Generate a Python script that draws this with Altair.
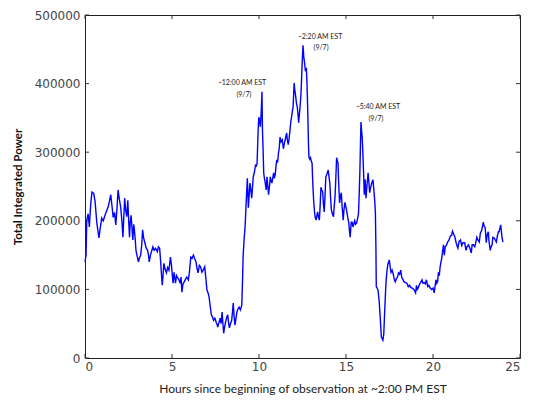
import altair as alt
import pandas as pd

# ---- data ----
hours = [
    0.0, 0.06, 0.1, 0.18, 0.25, 0.33, 0.4, 0.5, 0.58, 0.68, 0.8, 0.88, 0.96, 1.05, 1.15, 1.25, 1.33, 1.4, 1.48, 1.55,
    1.62, 1.7, 1.77, 1.83, 1.9, 1.97, 2.05, 2.12, 2.18, 2.23, 2.28, 2.34, 2.4, 2.46, 2.51, 2.56, 2.6, 2.65, 2.7, 2.75,
    2.8, 2.84, 2.88, 2.93, 3.0, 3.07, 3.13, 3.2, 3.26, 3.31, 3.37, 3.44, 3.52, 3.6, 3.65, 3.69, 3.76, 3.82, 3.9, 3.97,
    4.05, 4.16, 4.22, 4.29, 4.35, 4.4, 4.44, 4.5, 4.53, 4.6, 4.68, 4.75, 4.82, 4.87, 4.91, 4.97, 5.02, 5.06,
    5.12, 5.2, 5.26, 5.32, 5.4, 5.47, 5.52, 5.57, 5.63, 5.7, 5.78, 5.85, 5.94, 6.0, 6.08, 6.15, 6.23, 6.3, 6.38, 6.44,
    6.5, 6.57, 6.64, 6.72, 6.79, 6.88, 6.95, 7.01, 7.07, 7.13, 7.2, 7.26, 7.32, 7.39, 7.46, 7.54, 7.6, 7.63, 7.7, 7.77,
    7.82, 7.88, 7.92, 7.97, 8.02, 8.07, 8.13, 8.2, 8.25, 8.3, 8.36, 8.43, 8.48, 8.52, 8.57, 8.62, 8.68, 8.73, 8.8, 8.86,
    8.93, 9.01, 9.05, 9.09, 9.15, 9.2, 9.26, 9.33, 9.39, 9.44, 9.48, 9.53, 9.58, 9.63, 9.67, 9.73, 9.8, 9.85, 9.89, 9.95,
    9.99, 10.04, 10.08, 10.13, 10.17, 10.2, 10.24, 10.27,
    10.31, 10.36, 10.41, 10.46, 10.5, 10.55, 10.6, 10.65, 10.7, 10.74, 10.79, 10.84, 10.88, 10.93, 10.98, 11.02, 11.07,
    11.12, 11.16, 11.21, 11.27, 11.34, 11.4, 11.46, 11.52, 11.59, 11.63, 11.68, 11.73, 11.78, 11.83, 11.87, 11.92, 11.96,
    12.02, 12.06, 12.11, 12.15, 12.2, 12.24, 12.28, 12.32, 12.36, 12.4, 12.43, 12.48, 12.53, 12.57, 12.62, 12.67, 12.72,
    12.76, 12.81, 12.84, 12.87, 12.92, 12.96, 13.0, 13.05, 13.09, 13.14, 13.19, 13.23, 13.28, 13.33, 13.37, 13.42, 13.47,
    13.52, 13.56, 13.61, 13.66, 13.7, 13.75, 13.8, 13.84, 13.9, 13.98, 14.02, 14.07, 14.11, 14.16, 14.22, 14.28, 14.32,
    14.37, 14.42, 14.46, 14.5, 14.54, 14.58, 14.63, 14.68, 14.73, 14.78, 14.84, 14.88, 14.94, 14.98, 15.03, 15.1, 15.16,
    15.2, 15.24, 15.3, 15.35,
    15.4, 15.5, 15.55, 15.61, 15.68, 15.72, 15.76, 15.8, 15.83, 15.86, 15.9, 15.93, 15.97, 16.01, 16.05, 16.1, 16.15,
    16.2, 16.27, 16.32, 16.36, 16.42, 16.48, 16.55, 16.6, 16.65, 16.69, 16.72, 16.74, 16.79, 16.84, 16.9, 16.95, 17.0,
    17.03, 17.08, 17.12, 17.17, 17.22, 17.27, 17.31, 17.36, 17.4, 17.45, 17.49, 17.54, 17.59, 17.65, 17.7, 17.78, 17.83,
    17.9, 17.96, 18.02, 18.08, 18.15, 18.2, 18.26, 18.34, 18.42, 18.5, 18.58, 18.65, 18.72, 18.8, 18.9, 19.0, 19.05,
    19.1, 19.15, 19.2, 19.28, 19.37, 19.42, 19.5, 19.56, 19.62, 19.7, 19.76, 19.84, 19.92, 20.0, 20.07,
    20.12, 20.17, 20.22, 20.27, 20.31, 20.36, 20.41, 20.46, 20.5, 20.55, 20.6, 20.65, 20.7, 20.78, 20.84, 20.92, 21.0,
    21.07, 21.12, 21.2, 21.26, 21.33, 21.4, 21.43, 21.5, 21.58, 21.65, 21.72, 21.82, 21.9, 21.95, 22.04, 22.12, 22.2,
    22.25, 22.32, 22.4, 22.47, 22.52, 22.58, 22.66, 22.72, 22.8, 22.89, 22.94, 23.0, 23.06, 23.12, 23.18, 23.22, 23.29,
    23.34, 23.4, 23.44, 23.52, 23.58, 23.64, 23.7, 23.76, 23.8, 23.85, 23.89, 23.93, 23.97, 24.02,
]
power = [
    140000, 150000, 201000, 210000, 191000, 225000, 242000, 240000, 228000, 197000, 175000, 190000, 204000, 200000,
    208000, 215000, 220000, 228000, 238000, 222000, 205000, 212000, 194000, 215000, 245000, 232000, 220000, 200000,
    176000, 205000, 233000, 215000, 206000, 230000, 200000, 176000, 198000, 208000, 190000, 172000, 195000, 187000,
    175000, 157000, 148000, 140000, 146000, 150000, 165000, 187000, 175000, 168000, 160000, 157000, 150000, 140000,
    150000, 155000, 162000, 157000, 160000, 155000, 162000, 160000, 140000, 120000, 106000, 125000, 138000, 130000,
    124000, 132000, 128000, 138000, 147000, 135000, 120000, 109000,
    125000, 109000, 120000, 117000, 114000, 109000, 118000, 96000, 108000, 111000, 115000, 118000, 114000, 125000,
    147000, 145000, 150000, 145000, 140000, 130000, 124000, 135000, 133000, 125000, 128000, 133000, 115000, 99000,
    95000, 89000, 75000, 63000, 60000, 55000, 58000, 52000, 48000, 45000, 52000, 58000, 50000, 67000, 52000, 36000,
    45000, 51000, 58000, 63000, 52000, 44000, 50000, 55000, 68000, 80000, 60000, 48000, 58000, 67000, 72000, 74000,
    70000, 77000, 110000, 150000, 175000, 191000, 225000, 262000, 219000, 240000, 255000, 245000, 233000, 250000,
    264000, 270000, 281000, 280000, 284000, 332000, 351000, 345000, 337000, 360000, 388000, 332000, 300000, 270000,
    262000, 255000, 245000, 264000, 252000, 238000, 250000, 264000, 258000, 255000, 262000, 270000, 262000, 267000,
    280000, 289000, 285000, 299000, 305000, 322000, 315000, 318000, 305000, 313000, 320000, 328000, 318000, 311000,
    320000, 332000, 345000, 351000, 360000, 366000, 401000, 390000, 381000, 372000, 366000, 355000, 343000, 355000,
    366000, 380000, 395000, 430000, 456000, 440000, 430000, 418000, 423000, 400000, 351000, 315000, 293000, 290000,
    292000, 287000, 284000, 255000, 230000, 213000, 205000, 201000, 208000, 213000, 205000, 201000, 225000, 249000,
    245000, 242000, 225000, 213000, 240000, 264000, 268000, 274000, 265000, 255000, 235000, 216000, 210000, 206000,
    220000, 235000, 265000, 292000, 288000, 284000, 255000, 226000, 235000, 241000, 220000, 201000, 215000, 227000,
    222000, 216000, 205000, 197000, 185000, 176000, 198000, 198000,
    191000, 200000, 195000, 197000, 205000, 211000, 240000, 274000, 310000, 344000, 330000, 321000, 299000, 270000,
    238000, 260000, 233000, 250000, 270000, 255000, 241000, 249000, 255000, 260000, 245000, 230000, 211000, 160000,
    104000, 102000, 99000, 85000, 66000, 45000, 31000, 28000, 26000, 35000, 66000, 95000, 114000, 128000, 136000,
    140000, 143000, 132000, 125000, 128000, 124000, 114000, 111000, 116000, 118000, 124000, 122000, 128000, 118000,
    115000, 111000, 110000, 109000, 104000, 106000, 103000, 102000, 100000, 95000, 106000, 100000, 102000, 106000,
    110000, 114000, 109000, 110000, 108000, 114000, 104000, 106000, 102000, 100000, 102000, 95000,
    105000, 114000, 109000, 112000, 125000, 120000, 133000, 140000, 145000, 155000, 165000, 150000, 162000, 165000,
    169000, 172000, 178000, 179000, 185000, 180000, 176000, 168000, 162000, 160000, 170000, 172000, 164000, 168000,
    168000, 157000, 162000, 165000, 160000, 153000, 165000, 165000, 162000, 170000, 176000, 172000, 169000, 182000,
    186000, 198000, 192000, 190000, 168000, 180000, 184000, 170000, 157000, 162000, 165000, 176000, 175000, 172000,
    169000, 178000, 184000, 184000, 190000, 194000, 185000, 175000, 169000,
]

x_ticks = [0, 5, 10, 15, 20, 25]
y_ticks = [0, 100000, 200000, 300000, 400000, 500000]

# annotated peaks (hour, power at peak) and their labels
ann_hour = [10.17, 10.17, 12.53, 12.53, 15.86, 15.86]
ann_power = [388000, 388000, 456000, 456000, 344000, 344000]
ann_text = ["~12:00 AM EST", "(9/7)", "~2:20 AM EST", "(9/7)", "~5:40 AM EST", "(9/7)"]

W, H = 435, 343

df = pd.DataFrame({"hour": hours, "power": power})
ann_df = pd.DataFrame({"hour": ann_hour, "power": ann_power, "label": ann_text})
xt_df = pd.DataFrame({"hour": x_ticks})
yt_df = pd.DataFrame({"power": y_ticks})

x_enc = alt.X(
    "hour:Q",
    scale=alt.Scale(domain=[0, 25], nice=False, zero=False),
    axis=alt.Axis(
        values=x_ticks, format="d", title="Hours since beginning of observation at ~2:00 PM EST",
        titleFont="Lato", titleFontSize=12, titleFontWeight="normal", titleColor="#222",
        titleY=30, titleBaseline="middle", labelPadding=3,
    ),
)
y_enc = alt.Y(
    "power:Q",
    scale=alt.Scale(domain=[0, 500000], nice=False),
    axis=alt.Axis(
        values=y_ticks, format="d", title="Total Integrated Power",
        titleFont="Lato", titleFontSize=11.5, titleFontWeight="bold", titleColor="#111",
        titleX=-67, titleY=H / 2, titleAngle=-90, titleBaseline="middle", titleAlign="center",
        labelPadding=5,
    ),
)

line = alt.Chart(df).mark_line(color="#0000ff", strokeWidth=1.4).encode(x=x_enc, y=y_enc)

tick_col = "#333"
xt_bottom = alt.Chart(xt_df).mark_rule(color=tick_col, strokeWidth=1).encode(
    x=x_enc, y=alt.value(H - 4), y2=alt.value(H))
xt_top = alt.Chart(xt_df).mark_rule(color=tick_col, strokeWidth=1).encode(
    x=x_enc, y=alt.value(0), y2=alt.value(4))
yt_left = alt.Chart(yt_df).mark_rule(color=tick_col, strokeWidth=1).encode(
    y=y_enc, x=alt.value(0), x2=alt.value(4))
yt_right = alt.Chart(yt_df).mark_rule(color=tick_col, strokeWidth=1).encode(
    y=y_enc, x=alt.value(W - 4), x2=alt.value(W))

text_style = dict(font="Lato", fontSize=7, color="#222", align="center", baseline="middle")
t1 = alt.Chart(ann_df.iloc[[0]]).mark_text(dx=-20, dy=-9, **text_style).encode(x=x_enc, y=y_enc, text="label:N")
t2 = alt.Chart(ann_df.iloc[[1]]).mark_text(dx=-18, dy=3, **text_style).encode(x=x_enc, y=y_enc, text="label:N")
t3 = alt.Chart(ann_df.iloc[[2]]).mark_text(dx=17, dy=-8, **text_style).encode(x=x_enc, y=y_enc, text="label:N")
t4 = alt.Chart(ann_df.iloc[[3]]).mark_text(dx=18, dy=3, **text_style).encode(x=x_enc, y=y_enc, text="label:N")
t5 = alt.Chart(ann_df.iloc[[4]]).mark_text(dx=17, dy=-15, **text_style).encode(x=x_enc, y=y_enc, text="label:N")
t6 = alt.Chart(ann_df.iloc[[5]]).mark_text(dx=15, dy=-3, **text_style).encode(x=x_enc, y=y_enc, text="label:N")

chart = alt.layer(line, xt_bottom, xt_top, yt_left, yt_right, t1, t2, t3, t4, t5, t6).properties(
    width=W, height=H,
    autosize=alt.AutoSizeParams(type="none"),
    padding={"left": 77, "top": 7, "right": 6, "bottom": 38},
).configure_view(
    stroke="#222", strokeWidth=1
).configure_axis(
    domain=False, ticks=False, grid=False,
    labelFont="DejaVu Sans", labelFontSize=12, labelColor="#444",
)

chart.save("out.html", embed_options={"renderer": "svg", "actions": False})
